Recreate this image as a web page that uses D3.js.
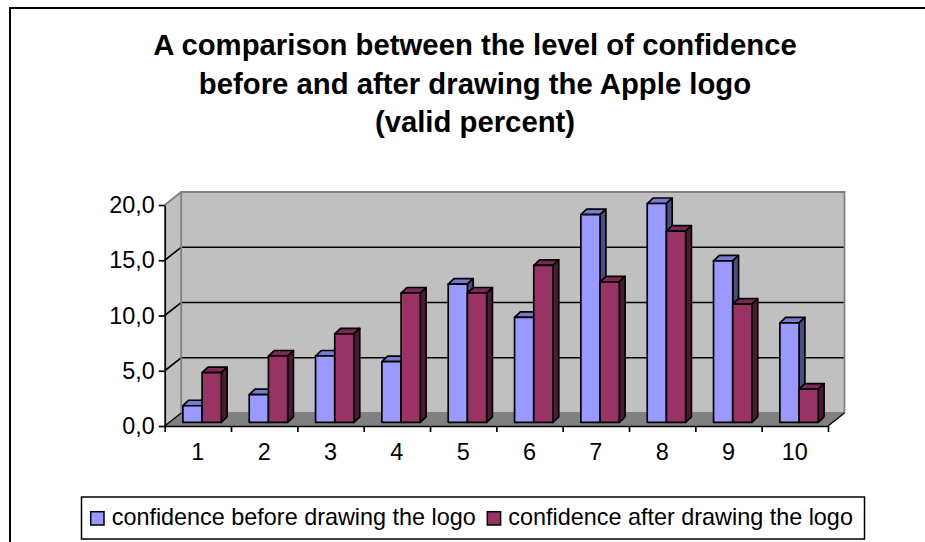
<!DOCTYPE html>
<html>
<head>
<meta charset="utf-8">
<script src="https://cdn.jsdelivr.net/npm/d3@7"></script>
<style>
html, body { margin: 0; padding: 0; background: #fff; overflow: hidden; }
text { font-family: "Liberation Sans", Arial, sans-serif; fill: #000; }
</style>
</head>
<body>
<div id="chart"></div>
<script>
const titleLines = [
    "A comparison between the level of confidence",
    "before and after drawing the Apple logo",
    "(valid percent)"
];
const categories = ["1", "2", "3", "4", "5", "6", "7", "8", "9", "10"];
const yTicks = [0, 5, 10, 15, 20];
const beforeValues = [1.5, 2.5, 6.0, 5.5, 12.5, 9.5, 18.8, 19.8, 14.6, 9.0];
const afterValues = [4.5, 6.0, 8.0, 11.7, 11.7, 14.2, 12.7, 17.3, 10.7, 3.0];
const seriesNames = ["confidence before drawing the logo", "confidence after drawing the logo"];

const width = 925;
const height = 542;
const labelSize = 23.4;

const svg = d3.select("#chart")
    .append("svg")
    .attr("width", width)
    .attr("height", height);

// outer frame of the chart, cropped at the right and bottom
svg.append("path")
    .attr("d", "M10,542V8H925")
    .attr("fill", "none")
    .attr("stroke", "#000")
    .attr("stroke-width", 2);

const title = svg.append("text")
    .attr("text-anchor", "middle")
    .attr("font-weight", "bold")
    .attr("font-size", 29.3);
titleLines.forEach((t, i) => {
    title.append("tspan").attr("x", 475).attr("y", 55 + i * 38.5).text(t);
});

// front plane scales
const x = d3.scaleBand().domain(categories).range([164.7, 828]);
const y = d3.scaleLinear().domain([0, 20]).range([426, 205]);

// depth of the 3d box
const depthX = 16.5;
const depthY = -13;

// walls and floor
const wall = svg.append("g");
wall.append("path")
    .attr("d", `M${x.range()[0]},${y(0)}L${x.range()[0] + depthX},${y(0) + depthY}V${y(20) + depthY}L${x.range()[0]},${y(20)}Z`)
    .attr("fill", "#C0C0C0");
wall.append("rect")
    .attr("x", x.range()[0] + depthX)
    .attr("y", y(20) + depthY)
    .attr("width", x.range()[1] - x.range()[0])
    .attr("height", y(0) - y(20))
    .attr("fill", "#C0C0C0");
wall.append("path")
    .attr("d", `M${x.range()[0]},${y(0)}L${x.range()[0] + depthX},${y(0) + depthY}H${x.range()[1] + depthX}L${x.range()[1]},${y(0)}Z`)
    .attr("fill", "#808080");

// gridlines on the side and back wall
yTicks.filter(d => d > 0 && d < 20).forEach(d => {
    wall.append("path")
        .attr("d", `M${x.range()[0]},${y(d)}l${depthX},${depthY}H${x.range()[1] + depthX}`)
        .attr("fill", "none")
        .attr("stroke", "#000")
        .attr("stroke-width", 1.6);
});

// wall edges
wall.append("path")
    .attr("d", `M${x.range()[0]},${y(20)}l${depthX},${depthY}H${x.range()[1] + depthX}V${y(0) + depthY}`
        + `M${x.range()[0] + depthX},${y(20) + depthY}V${y(0) + depthY}H${x.range()[1] + depthX}`)
    .attr("fill", "none")
    .attr("stroke", "#808080")
    .attr("stroke-width", 1.8);
wall.append("path")
    .attr("d", `M${x.range()[0]},${y(0)}l${depthX},${depthY}M${x.range()[1]},${y(0)}l${depthX},${depthY}`)
    .attr("fill", "none")
    .attr("stroke", "#000")
    .attr("stroke-width", 1.3);

// bars sit in the middle of the depth
const barShiftX = 18.2;
const barShiftY = -3.7;
const barW = 19.2;
const barDX = 5.8;
const barDY = -5.5;

const series = [
    {values: beforeValues, front: "#9999FF", top: "#7A7ACC", side: "#4D4D80"},
    {values: afterValues, front: "#993366", top: "#7A2952", side: "#4D1A33"}
];

// draw column by column so the later box covers the earlier side face
categories.forEach((c, i) => {
    series.forEach((s, j) => {
        const bx = x(c) + barShiftX + j * barW;
        const by = y(s.values[i]) + barShiftY;
        const base = y(0) + barShiftY;
        const g = svg.append("g")
            .attr("stroke", "#000")
            .attr("stroke-width", 1.7)
            .attr("stroke-linejoin", "round");
        g.append("path")
            .attr("d", `M${bx},${by}l${barDX},${barDY}h${barW}l${-barDX},${-barDY}Z`)
            .attr("fill", s.top);
        g.append("path")
            .attr("d", `M${bx + barW},${by}l${barDX},${barDY}V${base + barDY}l${-barDX},${-barDY}Z`)
            .attr("fill", s.side);
        g.append("rect")
            .attr("x", bx)
            .attr("y", by)
            .attr("width", barW)
            .attr("height", base - by)
            .attr("fill", s.front);
    });
});

// axes on the front plane
const xAxis = d3.axisBottom(d3.scaleLinear().domain([0, categories.length]).range(x.range()))
    .ticks(categories.length)
    .tickFormat("")
    .tickSize(6)
    .tickSizeOuter(0);
svg.append("g")
    .attr("transform", `translate(0,${y(0)})`)
    .call(xAxis)
    .call(g => g.selectAll("path,line").attr("stroke", "#000").attr("stroke-width", 1.7));

const xLabels = svg.append("g");
xLabels.selectAll("text")
    .data(categories)
    .join("text")
    .attr("x", d => x(d) + x.bandwidth() / 2)
    .attr("y", 459.5)
    .attr("text-anchor", "middle")
    .attr("font-size", labelSize)
    .text(d => d);

const yAxis = d3.axisLeft(y)
    .tickValues(yTicks)
    .tickFormat(d => d3.format(".1f")(d).replace(".", ","))
    .tickSize(6)
    .tickPadding(4)
    .tickSizeOuter(0);
svg.append("g")
    .attr("transform", `translate(${x.range()[0]},0)`)
    .call(yAxis)
    .call(g => g.selectAll("path,line").attr("stroke", "#000").attr("stroke-width", 1.7))
    .call(g => g.selectAll("text")
        .attr("font-size", labelSize)
        .attr("font-family", "Liberation Sans")
        .attr("fill", "#000"));

// legend
const legend = svg.append("g");
legend.append("rect")
    .attr("x", 81.5)
    .attr("y", 497)
    .attr("width", 783)
    .attr("height", 42)
    .attr("fill", "#fff")
    .attr("stroke", "#000")
    .attr("stroke-width", 1.5);
const legendX = [90.7, 487.3];
seriesNames.forEach((name, i) => {
    legend.append("rect")
        .attr("x", legendX[i])
        .attr("y", 511.7)
        .attr("width", 13.3)
        .attr("height", 13.3)
        .attr("fill", series[i].front)
        .attr("stroke", "#000")
        .attr("stroke-width", 1.5);
    legend.append("text")
        .attr("x", legendX[i] + 21)
        .attr("y", 525)
        .attr("font-size", labelSize)
        .text(name);
});
</script>
</body>
</html>
